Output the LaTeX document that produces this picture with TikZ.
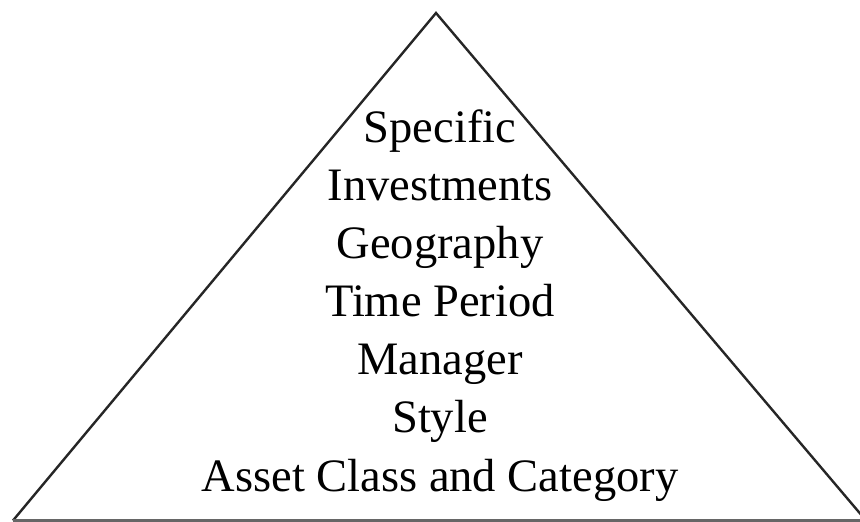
\documentclass[tikz,border=0pt]{standalone}
\usepackage{fontspec}
\setmainfont{Liberation Serif}
\begin{document}
\begin{tikzpicture}[x=1pt,y=-1pt,
  edge/.style={line width=2.4pt,draw=black!85,line join=miter},
  baseedge/.style={line width=2.2pt,draw=black!60},
  level/.style={font=\fontsize{46.5}{46.5}\selectfont,anchor=base,inner sep=0pt}]
  \useasboundingbox (0,0) rectangle (860,522);
  % pyramid outline
  \coordinate (apex) at (436,13);
  \coordinate (bl) at (13,520.5);
  \coordinate (br) at (866,520.5);
  \draw[edge] (bl) -- (apex) -- (br);
  \draw[baseedge] (bl) -- (br);
  % levels, narrowest scope at the top
  \node[level] (l1) at (440,142) {Specific};
  \node[level] (l2) at (440,200.2) {Investments};
  \node[level] (l3) at (440,258.3) {Geography};
  \node[level] (l4) at (440,316.5) {Time Period};
  \node[level] (l5) at (440,374.7) {Manager};
  \node[level] (l6) at (440,432.8) {Style};
  \node[level] (l7) at (440,491) {Asset Class and Category};
\end{tikzpicture}
\end{document}
